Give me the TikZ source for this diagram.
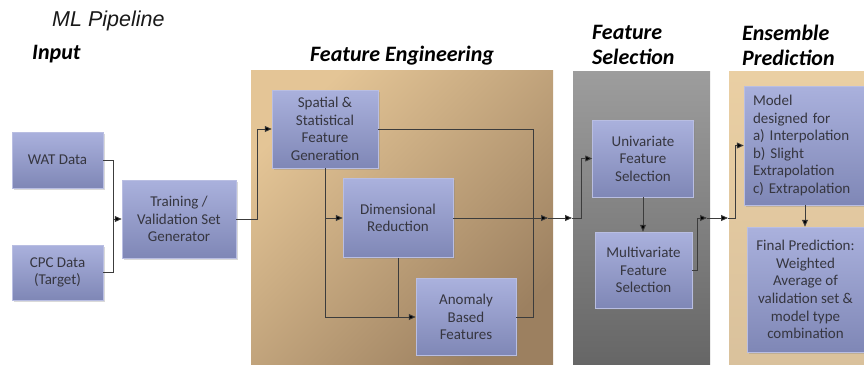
\documentclass[tikz,border=0pt]{standalone}
\usepackage{fontspec}
\setmainfont{Carlito}
\newfontfamily\headfont{Liberation Sans}
\usetikzlibrary{arrows.meta,shadows}

\definecolor{boxtop}{HTML}{AAB1DD}
\definecolor{boxbot}{HTML}{7F87B6}
\definecolor{boxedge}{HTML}{B9BEE2}
\definecolor{boxtext}{HTML}{363640}
\definecolor{linkgray}{HTML}{3C3C3C}
\definecolor{fetop}{HTML}{E4C596}
\definecolor{febot}{HTML}{9C8060}
\definecolor{fstop}{HTML}{9D9D9D}
\definecolor{fsbot}{HTML}{656565}
\definecolor{eptop}{HTML}{EACFA3}
\definecolor{epbot}{HTML}{D9C19C}

\tikzset{
  stage/.style={rectangle, top color=boxtop, bottom color=boxbot,
    draw=boxedge, line width=0.5pt, align=center, text=boxtext,
    font=\fontsize{15}{17.6}\selectfont, inner sep=0pt,
    drop shadow={shadow xshift=1.5pt, shadow yshift=-1.5pt, opacity=0.3}},
  link/.style={draw=linkgray, line width=0.9pt},
  arr/.style={link, -{Triangle[length=7pt,width=6pt,fill=black]}},
  title/.style={font=\bfseries\itshape\fontsize{22}{24.7}\selectfont,
    inner sep=0pt, text=black},
}

\begin{document}
\begin{tikzpicture}[x=1pt,y=-1pt]
\path[use as bounding box] (0,0) rectangle (864,364);
\clip (0,0) rectangle (864,364);

% stage panels
\path[top color=fetop, bottom color=febot, shading angle=45]
  (251,70) rectangle (553,370);
\path[top color=fstop, bottom color=fsbot] (573,71) rectangle (710,370);
\path[top color=eptop, bottom color=epbot] (729,71) rectangle (870,370);

% headings
\node[font=\headfont\itshape\fontsize{21.5}{24}\selectfont, inner sep=0pt,
  anchor=base west, text=black!90] (head) at (52,27) {ML Pipeline};
\node[title, anchor=base west] (tin) at (32,59) {Input};
\node[title, anchor=base west] (tfe) at (310,61) {Feature Engineering};
\node[title, anchor=north west, align=left] (tfs) at (592,25) {Feature\\Selection};
\node[title, anchor=north west, align=left] (tep) at (742,25) {Ensemble\\Prediction};

% input stage
\node[stage, minimum width=91pt, minimum height=56pt] (wat) at (57.5,160) {WAT Data};
\node[stage, minimum width=91pt, minimum height=55pt] (cpc) at (57.5,272.5) {CPC Data\\(Target)};
\node[stage, minimum width=114pt, minimum height=78pt] (train) at (179,219) {Training /\\Validation Set\\Generator};

% feature engineering
\node[stage, minimum width=106pt, minimum height=78pt] (spat) at (325,129) {Spatial \&\\Statistical\\Feature\\Generation};
\node[stage, minimum width=110pt, minimum height=79pt] (dim) at (398,218) {Dimensional\\Reduction};
\node[stage, minimum width=100pt, minimum height=77pt] (anom) at (466,317) {Anomaly\\Based\\Features};

% feature selection
\node[stage, minimum width=101pt, minimum height=77pt] (uni) at (643,158.5) {Univariate\\Feature\\Selection};
\node[stage, minimum width=97pt, minimum height=76pt] (multi) at (643.5,270) {Multivariate\\Feature\\Selection};

% ensemble prediction
\node[stage, align=left, text width=104pt, inner xsep=9pt, minimum height=119pt] (model) at (805,145.5)
  {Model\\designed for\\a) Interpolation\\b) Slight\\Extrapolation\\c) Extrapolation};
\node[stage, minimum width=117pt, minimum height=125pt] (final) at (805.5,289.5)
  {Final Prediction:\\Weighted\\Average of\\validation set \&\\model type\\combination};

% junction points
\coordinate (jin) at (113,219);
\coordinate (jtr) at (257,219);
\coordinate (jfe) at (533,218);
\coordinate (feout) at (548,218);
\coordinate (fsin) at (572,218);
\coordinate (jfs) at (581,218);
\coordinate (jms) at (697,218);
\coordinate (msout) at (707,218);
\coordinate (epin) at (728,218);
\coordinate (jep) at (735,218);

% connectors
\draw[link] (wat.east) -| (jin);
\draw[link] (cpc.east) -| (jin);
\draw[arr] (jin) -- (train.west);
\draw[arr] (train.east) -- (jtr) |- (spat.west);

\draw[link] (spat.east) -| (jfe);
\draw[link] (anom.east) -| (jfe);
\draw[arr] (spat.south) |- (anom.west);
\draw[arr] (spat.south |- dim.west) -- (dim.west);
\draw[link] (dim.south) -- (dim.south |- anom.west);
\draw[arr] (dim.east) -- (feout);
\draw[arr] (feout) -- (fsin);
\draw[arr] (fsin) -- (jfs) |- (uni.west);

\draw[arr] (uni.south) -- (uni.south |- multi.north);
\draw[link] (multi.east) -| (jms);
\draw[arr] (jms) -- (msout);
\draw[arr] (msout) -- (epin);
\draw[arr] (epin) -- (jep) |- (model.west);
\draw[arr] (model.south) -- (model.south |- final.north);
\end{tikzpicture}
\end{document}
